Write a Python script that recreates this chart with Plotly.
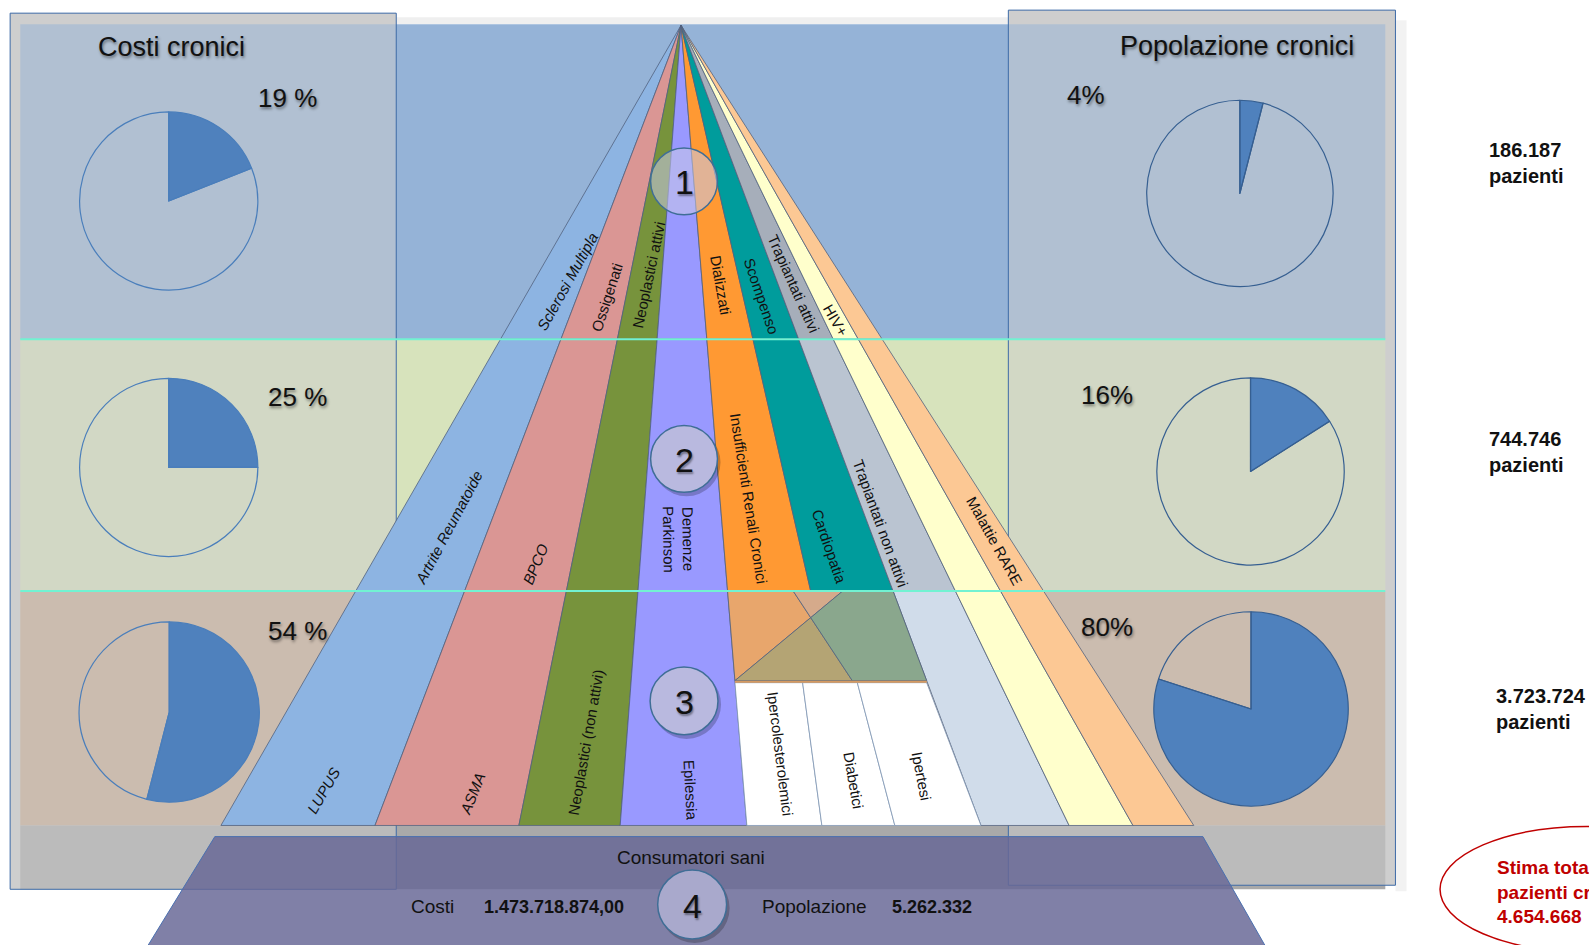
import plotly.graph_objects as go

# ---------------- DATA ----------------
livelli = ["1", "2", "3", "4"]
costi_pct = [19, 25, 54]
popolazione_pct = [4, 16, 80]
pazienti = ["186.187", "744.746", "3.723.724"]
titolo_costi = "Costi cronici"
titolo_pop = "Popolazione cronici"
stima_totale = ["Stima totale", "pazienti cronici", "4.654.668"]
sani_titolo = "Consumatori sani"
sani_costi = "1.473.718.874,00"
sani_popolazione = "5.262.332"

patologie_l1 = ["Sclerosi Multipla", "Ossigenati", "Neoplastici attivi", "", "Dializzati",
                "Scompenso", "Trapiantati attivi", "HIV+", ""]
patologie_l2 = ["Artrite Reumatoide", "BPCO", "", "Demenze<br>Parkinson",
                "Insufficienti Renali Cronici", "Cardiopatia", "Trapiantati non attivi", "", "Malattie RARE"]
patologie_l3 = ["LUPUS", "ASMA", "Neoplastici (non attivi)", "Epilessia", "", "", "", "", ""]
patologie_l3_bianche = ["Ipercolesterolemici", "Diabetici", "Ipertesi"]

# ---------------- LAYOUT / GEOMETRY (picture units) ----------------
W, H = 1568, 933
APEX = (672, 25)
Y1, Y2, Y3, YB = 335, 584, 672, 815
confini_base = [218, 370, 512, 612, 737, 853, 968, 1055, 1118, 1178]
cella_top = [None, 792, 846, None]
cella_base = [737, 811, 883, 968]
blend_l1 = (783, 841)   # top x, bottom x
blend_l2 = (831,)       # top x (bottom at left corner)

col_l1 = ["#8DB4E2", "#DA9694", "#77933C", "#9999FF", "#FF9933", "#009C9C", "#A6AEBA", "#FFFFCC", "#FCC894"]
col_l2 = ["#8DB4E2", "#DA9694", "#77933C", "#9999FF", "#FF9933", "#009C9C", "#BAC4D1", "#FFFFCC", "#FCC894"]
col_l3 = ["#8DB4E2", "#DA9694", "#77933C", "#9999FF", None, None, "#D0DCEA", "#FFFFCC", "#FCC894"]
EDGE = "#52627F"
FONT = "Liberation Sans, Arial, sans-serif"


def xl(b, y):
    return APEX[0] + (b - APEX[0]) * (y - APEX[1]) / (YB - APEX[1])


fig = go.Figure()


def poly(pts, fill, line=EDGE, lw=0.8):
    xs = [p[0] for p in pts] + [pts[0][0]]
    ys = [p[1] for p in pts] + [pts[0][1]]
    fig.add_trace(go.Scatter(x=xs, y=ys, mode="lines", fill="toself", fillcolor=fill,
                             line=dict(color=line, width=lw), hoverinfo="skip", showlegend=False))


shapes = []


def rect(x0, y0, x1, y1, fill, line=None, lw=0, layer="below"):
    shapes.append(dict(type="rect", xref="x", yref="y", x0=x0, y0=y0, x1=x1, y1=y1,
                       fillcolor=fill, line=dict(color=line or "rgba(0,0,0,0)", width=lw), layer=layer))


# backgrounds
rect(391, 17, 995, 24, "#EFEFEF")
rect(1377, 20, 1388, 880, "rgba(0,0,0,0.05)")
rect(10, 13, 391, 878, "#CFCFCF")
rect(995, 10, 1377, 874, "#CFCFCF")
rect(20, 24, 1367, 335, "#95B3D7")
rect(20, 335, 1367, 584, "#D7E3BC")
rect(20, 584, 1367, 815, "#C9AB91")
rect(20, 815, 1367, 878, "#A9A9A9")
rect(10, 13, 391, 878, "rgba(205,205,205,0.5)", "#3D6AA6", 1)
rect(995, 10, 1377, 874, "rgba(205,205,205,0.5)", "#3D6AA6", 1)

# tier 1 (triangles from apex)
for i in range(9):
    b0, b1 = confini_base[i], confini_base[i + 1]
    poly([APEX, (xl(b1, Y1), Y1), (xl(b0, Y1), Y1)], col_l1[i])
# tier 2
for i in range(9):
    b0, b1 = confini_base[i], confini_base[i + 1]
    poly([(xl(b0, Y1), Y1), (xl(b1, Y1), Y1), (xl(b1, Y2), Y2), (xl(b0, Y2), Y2)], col_l2[i])
# tier 3 plain columns
for i in range(9):
    if col_l3[i] is None:
        continue
    b0, b1 = confini_base[i], confini_base[i + 1]
    poly([(xl(b0, Y2), Y2), (xl(b1, Y2), Y2), (xl(b1, YB), YB), (xl(b0, YB), YB)], col_l3[i])

# tier 3 blended orange/teal region
xa_t, xa_b = xl(737, Y2), xl(737, Y3)
xd_t, xd_b = xl(968, Y2), xl(968, Y3)
p1, p2 = (blend_l1[0], Y2), (blend_l1[1], Y3)
q1, q2 = (xa_b, Y3), (blend_l2[0], Y2)


def inter(a, b, c, d):
    x1, y1 = a; x2, y2 = b; x3, y3 = c; x4, y4 = d
    den = (x1 - x2) * (y3 - y4) - (y1 - y2) * (x3 - x4)
    t = ((x1 - x3) * (y3 - y4) - (y1 - y3) * (x3 - x4)) / den
    return (x1 + t * (x2 - x1), y1 + t * (y2 - y1))


X = inter(p1, p2, q1, q2)
poly([(xa_t, Y2), p1, X, q1], "#E8A66C")
poly([p1, q2, X], "#D5AA8B")
poly([X, p2, q1], "#B4A474")
poly([q2, (xd_t, Y2), (xd_b, Y3), p2, X], "#8AA78D")

# white cells
tops = [xa_b] + cella_top[1:3] + [xd_b]
for i in range(3):
    poly([(tops[i], Y3 + 2), (tops[i + 1], Y3 + 2), (cella_base[i + 1], YB), (cella_base[i], YB)],
         "#FFFFFF", "#7F97B5", 0.8)
fig.add_trace(go.Scatter(x=[xa_b, xd_b], y=[Y3 + 1, Y3 + 1], mode="lines",
                         line=dict(color="#D59A62", width=2), hoverinfo="skip", showlegend=False))

# bottom trapezoid
poly([(212, 826), (1187, 826), (1252, 940), (142, 940)], "rgba(104,104,150,0.84)", "#4A70B0", 1)

# cyan separators
for yy in (Y1, Y2 - 0.5):
    shapes.append(dict(type="line", xref="x", yref="y", x0=20, x1=1367, y0=yy, y1=yy,
                       line=dict(color="#72F2D2", width=2), layer="above"))

# number circles
circ = [(675, 179, 33, "rgba(200,200,232,0.55)"), (675, 453, 33, "#B9B9DF"),
        (675, 692, 33.5, "#B9B9DF"), (683, 893, 34, "#A9A9CC")]
for k, (cx, cy, r, fc) in enumerate(circ):
    if k > 0:
        shapes.append(dict(type="circle", xref="x", yref="y", x0=cx - r + 2, x1=cx + r + 3,
                           y0=cy - r + 3, y1=cy + r + 4, fillcolor="rgba(0,0,0,0.22)",
                           line=dict(width=0), layer="above"))
    shapes.append(dict(type="circle", xref="x", yref="y", x0=cx - r, x1=cx + r, y0=cy - r, y1=cy + r,
                       fillcolor=fc, line=dict(color="#3F6E96", width=1.5), layer="above"))

# red ellipse
shapes.append(dict(type="circle", xref="x", yref="y", x0=1421, x1=1711, y0=816, y1=940,
                   line=dict(color="#C00000", width=1.5), fillcolor="rgba(0,0,0,0)", layer="above"))

# pies
pie_pos_costi = [(166.5, 198.5, 88), (166.5, 461.5, 88), (167, 703, 89)]
pie_pos_pop = [(1223.5, 191, 92), (1234, 465.5, 92.5), (1234.5, 700, 96)]


def add_pie(pct, cx, cy, r, lc):
    fig.add_trace(go.Pie(values=[pct, 100 - pct], sort=False, direction="clockwise", rotation=0,
                         marker=dict(colors=["#4F81BD", "rgba(0,0,0,0)"], line=dict(color=lc, width=1.2)),
                         textinfo="none", hoverinfo="skip", showlegend=False,
                         domain=dict(x=[(cx - r) / W, (cx + r) / W], y=[1 - (cy + r) / H, 1 - (cy - r) / H])))


for p, (cx, cy, r) in zip(costi_pct, pie_pos_costi):
    add_pie(p, cx, cy, r, "#4A7EBB")
for p, (cx, cy, r) in zip(popolazione_pct, pie_pos_pop):
    add_pie(p, cx, cy, r, "#365F91")

# ---------------- TEXT ----------------
ann = []
SH = "1px 2px 3px rgba(0,0,0,0.45)"


def txt(x, y, t, size=15, angle=0, bold=False, color="#111111", xanchor="center", align="center",
        shadow=None, italic=False):
    f = dict(family=FONT, size=size, color=color)
    if bold:
        f["weight"] = "bold"
    if italic:
        f["style"] = "italic"
    if shadow:
        f["shadow"] = shadow
    ann.append(dict(x=x, y=y, xref="x", yref="y", text=t, showarrow=False, textangle=angle,
                    font=f, xanchor=xanchor, yanchor="middle", align=align))


txt(169, 46, titolo_costi, 27, shadow=SH)
txt(1221, 45, titolo_pop, 27, shadow=SH)
for p, (x, y) in zip(costi_pct, [(284, 97), (294, 392), (294, 623)]):
    txt(x, y, f"{p} %", 26, shadow=SH)
for p, (x, y) in zip(popolazione_pct, [(1072, 94), (1092, 390), (1092, 619)]):
    txt(x, y, f"{p}%", 26, shadow=SH)
for t, (x, y) in zip(pazienti, [(1467, 161), (1467, 446), (1474, 700)]):
    txt(x, y, f"{t}<br>pazienti", 20, bold=True, xanchor="left", align="left")
txt(1475, 881, "<br>".join(stima_totale), 19, bold=True, color="#C00000", xanchor="left", align="left")

l1_pos = [(560, 278, -61), (599, 294, -72), (640, 272, -78), None, (711, 281, 80),
          (751, 292, 71), (783, 280, 66), (825, 316, 60), None]
l2_pos = [(443, 521, -62), (528, 557, -67), None, (669, 533, 89), (739, 492, 81),
          (818, 540, 71), (869, 517, 70), None, (981, 534, 61)]
l3_pos = [(319, 780, -60), (466, 783, -68), (578, 733, -80), (682, 780, 87)]
bianche_pos = [(770, 744, 83), (842, 771, 80), (909, 766, 79)]
italici = {"Sclerosi Multipla", "Artrite Reumatoide", "BPCO", "LUPUS", "ASMA"}
for names, pos in ((patologie_l1, l1_pos), (patologie_l2, l2_pos), (patologie_l3, l3_pos),
                   (patologie_l3_bianche, bianche_pos)):
    for n, p in zip(names, pos):
        if n and p:
            txt(p[0], p[1], n, 15, angle=p[2], italic=n in italici)

for k, (cx, cy, r, fc) in enumerate(circ):
    txt(cx, cy + 1, livelli[k], 34, shadow="1px 2px 2px rgba(0,0,0,0.4)")

txt(682, 847, sani_titolo, 19)
txt(427, 895, "Costi", 19)
txt(547, 895, sani_costi, 18, bold=True)
txt(804, 895, "Popolazione", 19)
txt(920, 895, sani_popolazione, 18, bold=True)

fig.update_layout(width=1589, height=945, margin=dict(l=0, r=0, t=0, b=0),
                  paper_bgcolor="white", plot_bgcolor="white", showlegend=False,
                  xaxis=dict(range=[0, W], visible=False, fixedrange=True),
                  yaxis=dict(range=[H, 0], visible=False, fixedrange=True),
                  shapes=shapes, annotations=ann)
fig.write_html("out.html")
